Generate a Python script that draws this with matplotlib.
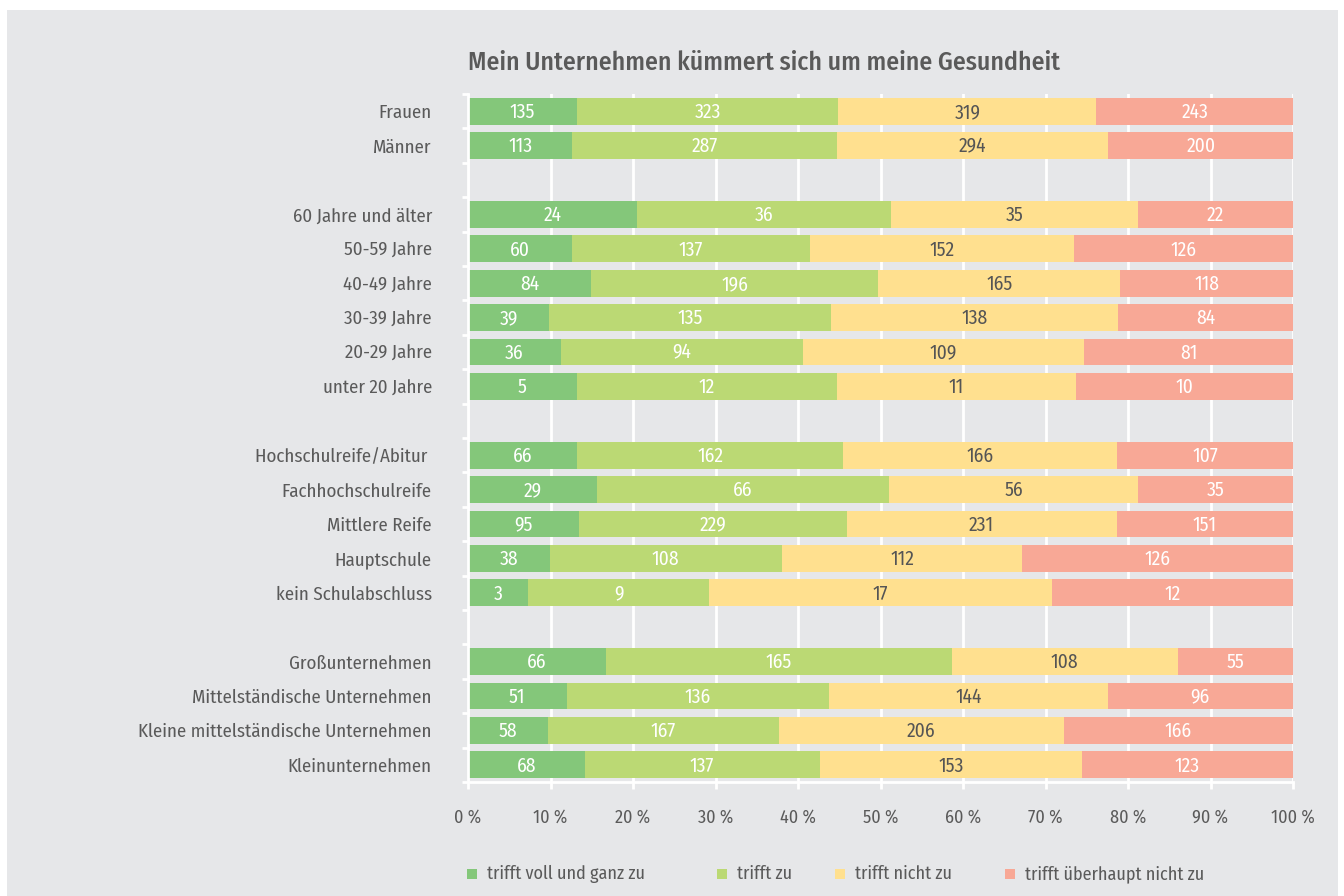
import matplotlib.pyplot as plt
from matplotlib.patches import Rectangle
import numpy as np

plt.rcParams['font.family'] = ['Fira Sans Condensed', 'Roboto Condensed', 'Archivo Narrow', 'DejaVu Sans']

title = "Mein Unternehmen kümmert sich um meine Gesundheit"
categories = ["Frauen", "Männer", "",
              "60 Jahre und älter", "50-59 Jahre", "40-49 Jahre", "30-39 Jahre",
              "20-29 Jahre", "unter 20 Jahre", "",
              "Hochschulreife/Abitur ", "Fachhochschulreife", "Mittlere Reife",
              "Hauptschule", "kein Schulabschluss", "",
              "Großunternehmen", "Mittelständische Unternehmen",
              "Kleine mittelständische Unternehmen", "Kleinunternehmen"]
series = ["trifft voll und ganz zu", "trifft zu", "trifft nicht zu", "trifft überhaupt nicht zu"]
voll = [135, 113, None, 24, 60, 84, 39, 36, 5, None, 66, 29, 95, 38, 3, None, 66, 51, 58, 68]
zu = [323, 287, None, 36, 137, 196, 135, 94, 12, None, 162, 66, 229, 108, 9, None, 165, 136, 167, 137]
nicht = [319, 294, None, 35, 152, 165, 138, 109, 11, None, 166, 56, 231, 112, 17, None, 108, 144, 206, 153]
ueberhaupt = [243, 200, None, 22, 126, 118, 84, 81, 10, None, 107, 35, 151, 126, 12, None, 55, 96, 166, 123]
colors = ["#84c77a", "#bbd974", "#ffe08f", "#f8a896"]
text_colors = ["white", "white", "#555555", "white"]

bg = "#e6e7e9"
fg = "#5a5a5a"

fig = plt.figure(figsize=(13.44, 8.96), dpi=100)
fig.patches.append(Rectangle((7 / 1344, 0), (1338 - 7) / 1344, 1 - 10 / 896,
                             transform=fig.transFigure, facecolor=bg, edgecolor='none', zorder=-10))
ax = fig.add_axes([468 / 1344, 1 - 782 / 896, (1293 - 468) / 1344, (782 - 94) / 896])
ax.set_facecolor(bg)
ax.patch.set_alpha(0)

rows = [i for i, v in enumerate(voll) if v is not None]
data = np.array([[voll[i], zu[i], nicht[i], ueberhaupt[i]] for i in rows], dtype=float)
pct = data / data.sum(axis=1, keepdims=True) * 100
left = np.zeros(len(rows))
for k in range(4):
    ax.barh(rows, pct[:, k], left=left, height=0.78, color=colors[k], zorder=3)
    for j, r in enumerate(rows):
        ax.text(left[j] + pct[j, k] / 2, r + 0.03, str(int(data[j, k])), ha='center', va='center',
                color=text_colors[k], fontsize=14, zorder=4)
    left += pct[:, k]

ax.set_xlim(0, 100)
ax.set_ylim(len(categories) - 0.5, -0.5)
ax.set_xticks(np.arange(0, 101, 10))
ax.set_xticklabels([f"{t} %" for t in range(0, 101, 10)])
ax.grid(axis='x', color='white', linewidth=2, zorder=0)
ax.set_yticks(range(len(categories)))
ax.set_yticklabels(categories)
ax.set_yticks(np.arange(-0.5, len(categories)), minor=True)
ax.tick_params(axis='y', which='major', length=0, pad=26, labelsize=13.6, labelcolor=fg)
ax.tick_params(axis='y', which='minor', length=4, width=2, color='white', direction='out')
ax.tick_params(axis='x', length=5, width=2, color='white', pad=14, labelsize=13, labelcolor=fg)
for s in ['top', 'right']:
    ax.spines[s].set_visible(False)
for s in ['left', 'bottom']:
    ax.spines[s].set_color('white')
    ax.spines[s].set_linewidth(2)
    ax.spines[s].set_zorder(5)

fig.text(468 / 1344, 1 - 63 / 896, title, fontsize=18.5, fontweight='medium', color=fg,
         ha='left', va='center')

leg_x = [467, 717, 835, 1005]
for k in range(4):
    fig.patches.append(Rectangle((leg_x[k] / 1344, 1 - 879 / 896), 10 / 1344, 10 / 896,
                                 transform=fig.transFigure, facecolor=colors[k], edgecolor='none'))
    fig.text((leg_x[k] + 20) / 1344, 1 - 874 / 896, series[k], fontsize=13, color=fg,
             ha='left', va='center')

fig.savefig("out.png", dpi=100, facecolor='white')
